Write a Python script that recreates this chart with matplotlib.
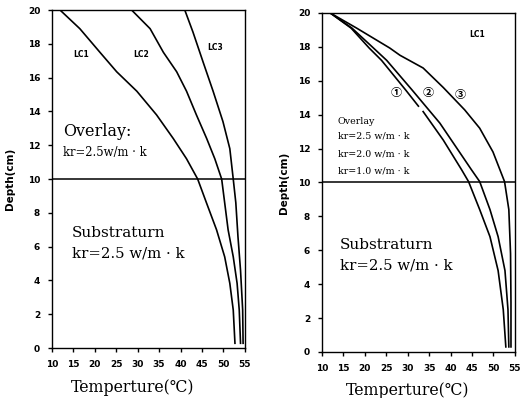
import matplotlib
matplotlib.use("Agg")
import matplotlib.pyplot as plt

# Left panel: load cases LC1, LC2, LC3 (temperature in C, depth in cm)
lc1_temp = [11.9, 16.5, 21.2, 25.1, 29.8, 34.4, 38.3, 41.4, 44.0, 46.1, 48.4, 50.3, 51.5, 52.3, 52.7]
lc1_depth = [20.0, 18.9, 17.5, 16.35, 15.2, 13.8, 12.4, 11.2, 10.0, 8.56, 7.0, 5.4, 3.83, 2.25, 0.28]
lc2_temp = [28.6, 32.9, 36.0, 39.1, 41.4, 43.7, 46.1, 48.0, 49.6, 51.1, 52.3, 53.2, 53.7, 54.0]
lc2_depth = [20.0, 18.9, 17.5, 16.35, 15.2, 13.8, 12.4, 11.2, 10.0, 7.0, 5.4, 3.83, 2.25, 0.28]
lc3_temp = [41.0, 42.9, 45.3, 47.6, 49.9, 51.5, 52.3, 52.9, 53.4, 54.0, 54.5, 54.6]
lc3_depth = [20.0, 18.7, 16.9, 15.2, 13.4, 11.8, 10.0, 8.6, 6.6, 4.6, 2.25, 0.28]

# Right panel: LC1 with overlay kr = 2.5 (1), 2.0 (2), 1.0 (3)
c1_upper_temp = [11.9, 16.8, 21.0, 23.9, 29.5, 32.5]
c1_upper_depth = [20.0, 19.1, 17.93, 17.2, 15.46, 14.5]
c1_lower_temp = [33.6, 38.3, 42.6, 44.2, 46.8, 49.2, 51.1, 52.3, 52.9]
c1_lower_depth = [14.18, 12.5, 10.74, 10.05, 8.4, 6.8, 4.8, 2.5, 0.3]
c2_temp = [11.9, 17.0, 22.0, 25.1, 31.0, 37.5, 44.9, 46.8, 49.2, 51.1, 52.7, 53.4, 53.6]
c2_depth = [20.0, 19.1, 17.93, 17.2, 15.46, 13.5, 10.74, 10.05, 8.4, 6.8, 4.8, 2.5, 0.3]
c3_temp = [11.9, 18.1, 25.8, 28.2, 33.6, 38.3, 43.3, 46.8, 49.9, 52.6, 53.6, 54.0, 54.1, 54.1]
c3_depth = [20.0, 19.1, 17.93, 17.5, 16.75, 15.6, 14.28, 13.2, 11.8, 10.05, 8.4, 5.8, 2.9, 0.3]

xticks = [10, 15, 20, 25, 30, 35, 40, 45, 50, 55]
yticks = [0, 2, 4, 6, 8, 10, 12, 14, 16, 18, 20]

serif = ['DejaVu Serif', 'Noto Sans CJK SC']

fig = plt.figure(figsize=(5.24, 3.98), dpi=100)
axL = fig.add_axes([0.0992, 0.1256, 0.368, 0.849])
axR = fig.add_axes([0.6145, 0.1156, 0.368, 0.852])

for ax in (axL, axR):
    ax.set_xlim(10, 55)
    ax.set_ylim(0, 20)
    ax.set_xticks(xticks)
    ax.set_yticks(yticks)
    ax.tick_params(direction='out', length=3, width=1, labelsize=6.5, pad=5.5)
    for lab in ax.get_xticklabels() + ax.get_yticklabels():
        lab.set_fontweight('bold')
    ax.axhline(10, color='black', lw=1.1)
    ax.set_xlabel('Temperture(℃)', family=serif, fontsize=11.3)
    ax.set_ylabel('Depth(cm)', fontsize=7.5, fontweight='bold')
    for s in ax.spines.values():
        s.set_linewidth(1.0)

axL.xaxis.set_label_coords(0.417, -0.092)
axR.xaxis.set_label_coords(0.446, -0.0885)
axL.yaxis.set_label_coords(-0.19, 0.5)
axR.yaxis.set_label_coords(-0.171, 0.5)

for t, d in [(lc1_temp, lc1_depth), (lc2_temp, lc2_depth), (lc3_temp, lc3_depth)]:
    axL.plot(t, d, color='black', lw=1.2)

axL.text(16.9, 17.4, 'LC1', fontsize=5.5, fontweight='bold', ha='center', va='center')
axL.text(30.9, 17.4, 'LC2', fontsize=5.5, fontweight='bold', ha='center', va='center')
axL.text(48.0, 17.8, 'LC3', fontsize=5.5, fontweight='bold', ha='center', va='center')
axL.text(12.5, 12.8, 'Overlay:', family=serif, fontsize=11.5, va='center')
axL.text(12.5, 11.6, 'kr=2.5w/m · k', family=serif, fontsize=8.4, va='center')
axL.text(14.7, 6.8, 'Substraturn', family=serif, fontsize=11, va='center')
axL.text(14.7, 5.6, 'kr=2.5 w/m · k', family=serif, fontsize=10.7, va='center')

for t, d in [(c1_upper_temp, c1_upper_depth), (c1_lower_temp, c1_lower_depth),
             (c2_temp, c2_depth), (c3_temp, c3_depth)]:
    axR.plot(t, d, color='black', lw=1.2)

axR.text(27.4, 15.3, '①', family=serif, fontsize=8, fontweight='bold', ha='center', va='center')
axR.text(34.8, 15.3, '②', family=serif, fontsize=8, fontweight='bold', ha='center', va='center')
axR.text(42.2, 15.2, '③', family=serif, fontsize=8, fontweight='bold', ha='center', va='center')
axR.text(46.3, 18.7, 'LC1', fontsize=5.5, fontweight='bold', ha='center', va='center')
axR.text(13.7, 13.6, 'Overlay', family=serif, fontsize=6.8, va='center')
axR.text(13.7, 12.75, 'kr=2.5 w/m · k', family=serif, fontsize=6.8, va='center')
axR.text(13.7, 11.67, 'kr=2.0 w/m · k', family=serif, fontsize=6.8, va='center')
axR.text(13.7, 10.65, 'kr=1.0 w/m · k', family=serif, fontsize=6.8, va='center')
axR.text(14.2, 6.3, 'Substraturn', family=serif, fontsize=11, va='center')
axR.text(14.2, 5.1, 'kr=2.5 w/m · k', family=serif, fontsize=10.7, va='center')

fig.savefig('out.png', dpi=100)
